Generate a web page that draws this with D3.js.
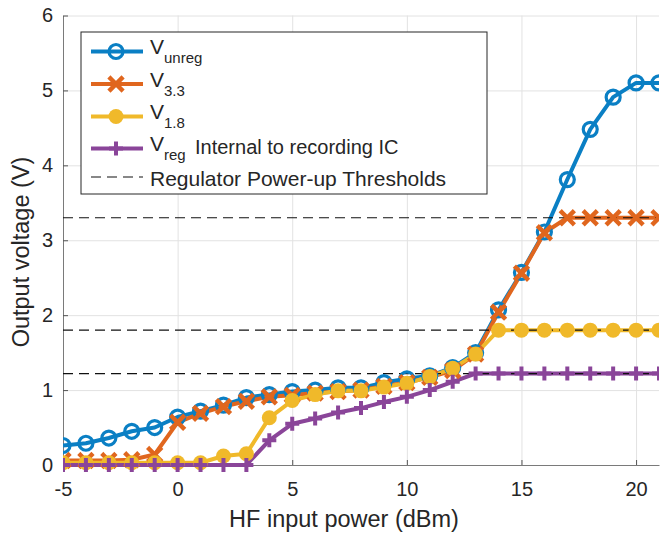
<!DOCTYPE html>
<html><head><meta charset="utf-8">
<script src="https://cdn.jsdelivr.net/npm/d3@7"></script>
<style>
body{margin:0;background:#fff}
svg{display:block}
text{font-family:"Liberation Sans",Arial,Helvetica,sans-serif;fill:#262626}
</style>
</head><body>
<svg id="c" width="668" height="536"></svg>
<script>
// ---- data ----
const power = [-5,-4,-3,-2,-1,0,1,2,3,4,5,6,7,8,9,10,11,12,13,14,15,16,17,18,19,20,21];
const vUnreg = [0.26,0.29,0.36,0.45,0.50,0.64,0.72,0.80,0.90,0.94,0.98,1.00,1.03,1.03,1.10,1.15,1.19,1.30,1.50,2.07,2.57,3.11,3.81,4.48,4.91,5.10,5.10];
const v33 = [0.06,0.06,0.06,0.07,0.14,0.57,0.69,0.78,0.85,0.91,0.93,0.96,0.98,1.00,1.05,1.10,1.17,1.26,1.48,2.04,2.56,3.10,3.30,3.30,3.30,3.30,3.30];
const v18 = [0.03,0.03,0.03,0.03,0.03,0.03,0.03,0.12,0.15,0.63,0.86,0.94,0.99,0.99,1.04,1.09,1.18,1.29,1.48,1.80,1.80,1.80,1.80,1.80,1.80,1.80,1.80];
const vReg = [0,0,0,0,0,0,0,0,0,0.33,0.55,0.62,0.70,0.76,0.84,0.91,1.00,1.11,1.22,1.22,1.22,1.22,1.22,1.22,1.22,1.22,1.22];
const thresholds = [3.3, 1.8, 1.22];
const xTicks = [-5,0,5,10,15,20];
const xTickLabels = ["-5","0","5","10","15","20"];
const yTicks = [0,1,2,3,4,5,6];
const yTickLabels = ["0","1","2","3","4","5","6"];
const seriesNames = ["unreg","3.3","1.8","reg"];
const seriesColors = ["#0a7fc4","#e0661e","#f0b92a","#8a4599"];
const seriesMarkers = ["circle","x","dot","plus"];
const seriesValues = [vUnreg, v33, v18, vReg];

// ---- layout ----
const svg = d3.select("#c");
const L = 63, R = 659, T = 15.5, B = 465;
const x = d3.scaleLinear().domain([-5,21]).range([L,R]);
const y = d3.scaleLinear().domain([0,6]).range([B,T]);

svg.append("defs").append("clipPath").attr("id","clipx")
  .append("rect").attr("x",L).attr("y",-50).attr("width",R-L).attr("height",650);

// grid
const gx = svg.append("g").attr("transform",`translate(0,${B})`)
  .call(d3.axisBottom(x).tickValues(xTicks).tickSize(-(B-T)).tickFormat(""));
const gy = svg.append("g").attr("transform",`translate(${L},0)`)
  .call(d3.axisLeft(y).tickValues(yTicks).tickSize(-(R-L)).tickFormat(""));
[gx,gy].forEach(g=>{g.select(".domain").remove();g.selectAll("line").attr("stroke","#e2e2e2").attr("stroke-width",1);});

// axes
const ax = svg.append("g").attr("transform",`translate(0,${B})`)
  .call(d3.axisBottom(x).tickValues(xTicks).tickSizeInner(-5).tickSizeOuter(0).tickPadding(17)
    .tickFormat((d,i)=>xTickLabels[i]));
const ay = svg.append("g").attr("transform",`translate(${L},0)`)
  .call(d3.axisLeft(y).tickValues(yTicks).tickSizeInner(-5).tickSizeOuter(0).tickPadding(10)
    .tickFormat((d,i)=>yTickLabels[i]));
[ax,ay].forEach(g=>{
  g.select(".domain").attr("stroke","#7a7a7a");
  g.selectAll(".tick line").attr("stroke","#555");
  g.selectAll("text").attr("font-size",20).attr("fill","#262626")
    .style("font-family","'Liberation Sans',Arial,sans-serif");
});

// marker drawing
function drawMarker(g, type, color, cx, cy){
  if(type==="circle"){
    g.append("circle").attr("cx",cx).attr("cy",cy).attr("r",7)
      .attr("fill","none").attr("stroke",color).attr("stroke-width",3.2);
  } else if(type==="dot"){
    g.append("circle").attr("cx",cx).attr("cy",cy).attr("r",7.5).attr("fill",color);
  } else if(type==="x"){
    const s=5.5;
    g.append("path").attr("d",`M${cx-s},${cy-s}L${cx+s},${cy+s}M${cx-s},${cy+s}L${cx+s},${cy-s}`)
      .attr("stroke",color).attr("stroke-width",4.5).attr("stroke-linecap","square");
  } else if(type==="plus"){
    const s=7;
    g.append("path").attr("d",`M${cx-s},${cy}L${cx+s},${cy}M${cx},${cy-s}L${cx},${cy+s}`)
      .attr("stroke",color).attr("stroke-width",4);
  }
}

const plot = svg.append("g").attr("clip-path","url(#clipx)");
const line = d3.line().x(d=>x(d[0])).y(d=>y(d[1]));
// lines
seriesValues.forEach((vals,i)=>{
  plot.append("path").datum(power.map((p,j)=>[p,vals[j]]))
    .attr("d",line).attr("fill","none").attr("stroke",seriesColors[i])
    .attr("stroke-width",4).attr("stroke-linejoin","round");
});
// thresholds
thresholds.forEach(t=>{
  plot.append("line").attr("x1",x(-5)).attr("x2",x(21)).attr("y1",y(t)).attr("y2",y(t))
    .attr("stroke","#111").attr("stroke-width",1.1).attr("stroke-dasharray","10,6");
});
// markers
seriesValues.forEach((vals,i)=>{
  const g = plot.append("g");
  power.forEach((p,j)=>drawMarker(g, seriesMarkers[i], seriesColors[i], x(p), y(vals[j])));
});

// axis labels
svg.append("text").attr("x",344).attr("y",527).attr("text-anchor","middle")
  .attr("font-size",23.5).text("HF input power (dBm)");
svg.append("text").attr("transform","translate(29,252) rotate(-90)").attr("text-anchor","middle")
  .attr("font-size",23.5).text("Output voltage (V)");

// legend
const lg = svg.append("g");
lg.append("rect").attr("x",81).attr("y",32).attr("width",406).attr("height",162)
  .attr("fill","#fff").attr("stroke","#262626").attr("stroke-width",1);
const rowY = [51.5, 84, 116.5, 148.5];
seriesNames.forEach((n,i)=>{
  const yy=rowY[i];
  lg.append("line").attr("x1",91).attr("x2",143).attr("y1",yy).attr("y2",yy)
    .attr("stroke",seriesColors[i]).attr("stroke-width",4);
  drawMarker(lg, seriesMarkers[i], seriesColors[i], 116, yy);
  const t = lg.append("text").attr("x",150).attr("y",yy+2.5).attr("font-size",21);
  t.append("tspan").text("V");
  t.append("tspan").attr("dy",9).attr("font-size",15).text(n);
  if(i===3){
    lg.append("text").attr("x",195).attr("y",yy+5.5).attr("font-size",20).text("Internal to recording IC");
  }
});
lg.append("line").attr("x1",91).attr("x2",143).attr("y1",177).attr("y2",177)
  .attr("stroke","#111").attr("stroke-width",1.1).attr("stroke-dasharray","10,6");
lg.append("text").attr("x",150).attr("y",186).attr("font-size",21).text("Regulator Power-up Thresholds");
</script>
</body></html>
